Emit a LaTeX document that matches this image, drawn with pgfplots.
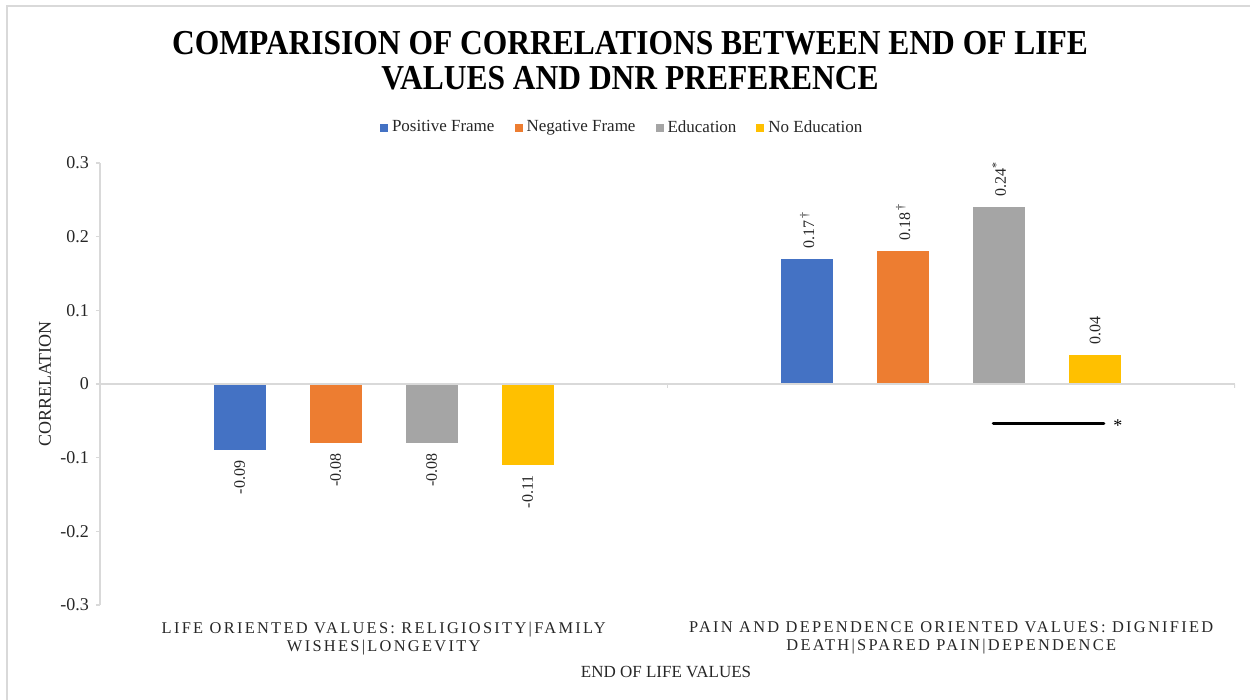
\documentclass[border=0pt]{standalone}
\usepackage{pgfplots}
\pgfplotsset{compat=1.18}
\usepackage{fontspec}
\setmainfont{Liberation Serif}
\newfontfamily\spacedcaps[LetterSpace=14]{Liberation Serif}

\definecolor{posblue}{HTML}{4472C4}
\definecolor{negorange}{HTML}{ED7D31}
\definecolor{edugray}{HTML}{A5A5A5}
\definecolor{noeduyellow}{HTML}{FFC000}
\definecolor{linegray}{HTML}{D9D9D9}
\definecolor{labeltext}{HTML}{262626}

\pgfplotsset{
  % value printed vertically, above (positive) or below (negative) each bar
  valuelabel/.style={
    nodes near coords={\rotatebox{90}{\pgfplotspointmeta}},
    every node near coord/.append style={font=\fontsize{8}{9}\selectfont, text=labeltext,
      inner ysep=5pt, inner xsep=0pt, anchor=#1},
  },
}

\begin{document}
\begin{tikzpicture}
\useasboundingbox (0,0) rectangle (625pt,350pt);
% outer frame (top and left edges)
\draw[linegray, line width=0.75pt] (3.5pt,0) -- (3.5pt,347pt) -- (625pt,347pt);
% chart title
\node[text=black, inner sep=0pt] at (315pt,318pt)
  {\scalebox{0.9}[1]{\begin{tabular}{@{}c@{}}\bfseries\fontsize{17.5}{18}\selectfont COMPARISION OF CORRELATIONS BETWEEN END OF LIFE\\[2.5pt]
   \bfseries\fontsize{17.5}{18}\selectfont VALUES AND DNR PREFERENCE\end{tabular}}};
\begin{axis}[
  at={(50pt,47.5pt)}, anchor=south west,
  scale only axis, width=567.5pt, height=221pt,
  xmin=-0.5, xmax=1.5, ymin=-0.3, ymax=0.3,
  ybar, bar width=26pt,
  axis y line*=left, axis x line*=bottom,
  x axis line style={draw=none},
  y axis line style={linegray, line width=0.75pt, -},
  xtick={0,1},
  xticklabels={{LIFE ORIENTED VALUES: RELIGIOSITY|FAMILY\\WISHES|LONGEVITY},
               {PAIN AND DEPENDENCE ORIENTED VALUES: DIGNIFIED\\DEATH|SPARED PAIN|DEPENDENCE}},
  xticklabel style={align=center, font=\spacedcaps\fontsize{8.2}{9}\selectfont, text=labeltext, yshift=-3pt},
  xtick style={draw=none},
  ytick={-0.3,-0.2,-0.1,0,0.1,0.2,0.3},
  yticklabels={-0.3,-0.2,-0.1,0,0.1,0.2,0.3},
  yticklabel style={font=\fontsize{9}{10}\selectfont, text=labeltext},
  ytick style={linegray, line width=0.75pt},
  tick align=outside, major tick length=2pt,
  ylabel={CORRELATION},
  ylabel style={at={(axis description cs:-0.0485,0.5)}, anchor=center, font=\fontsize{9}{10}\selectfont, text=labeltext},
  xlabel={END OF LIFE VALUES},
  xlabel style={at={(axis description cs:0.4987,-0.152)}, anchor=center, font=\fontsize{8.5}{10}\selectfont, text=labeltext},
  legend style={at={(0.461,1.0795)}, anchor=center, draw=none, fill=none,
    legend columns=4, font=\fontsize{8.5}{10}\selectfont, text=labeltext,
    /tikz/every even column/.append style={column sep=8pt}},
  legend image code/.code={\fill[#1] (0pt,-2pt) rectangle (4pt,2pt);},
  point meta=explicit symbolic,
]
% Positive Frame
\addplot[fill=posblue, draw=none, bar shift=-72pt, valuelabel=north]
  coordinates {(0,-0.09) [-0.09]};
\addplot[fill=posblue, draw=none, bar shift=-72pt, valuelabel=south, forget plot]
  coordinates {(1,0.17) [0.17\textsuperscript{\,\textdagger}]};
% Negative Frame
\addplot[fill=negorange, draw=none, bar shift=-24pt, valuelabel=north]
  coordinates {(0,-0.08) [-0.08]};
\addplot[fill=negorange, draw=none, bar shift=-24pt, valuelabel=south, forget plot]
  coordinates {(1,0.18) [0.18\textsuperscript{\,\textdagger}]};
% Education
\addplot[fill=edugray, draw=none, bar shift=24pt, valuelabel=north]
  coordinates {(0,-0.08) [-0.08]};
\addplot[fill=edugray, draw=none, bar shift=24pt, valuelabel=south, forget plot]
  coordinates {(1,0.24) [0.24\textsuperscript{*}]};
% No Education
\addplot[fill=noeduyellow, draw=none, bar shift=72pt, valuelabel=north]
  coordinates {(0,-0.11) [-0.11]};
\addplot[fill=noeduyellow, draw=none, bar shift=72pt, valuelabel=south, forget plot]
  coordinates {(1,0.04) [0.04]};
\legend{Positive Frame, Negative Frame, Education, No Education}
% zero line with category separators
\draw[linegray, line width=0.75pt] (axis cs:-0.5,0) -- (axis cs:1.5,0);
\draw[linegray, line width=0.75pt] (axis cs:0.5,0) -- ++(0pt,-2pt);
\draw[linegray, line width=0.75pt] (axis cs:1.5,0) -- ++(0pt,-2pt);
% significance bracket between Education and No Education
\draw[black, line width=1.5pt, line cap=round] (axis cs:1.074,-0.053) -- (axis cs:1.269,-0.053);
\node[font=\fontsize{9}{10}\selectfont, anchor=west, inner sep=0pt, yshift=-1.5pt] at (axis cs:1.285,-0.053) {*};
\end{axis}
\end{tikzpicture}
\end{document}
